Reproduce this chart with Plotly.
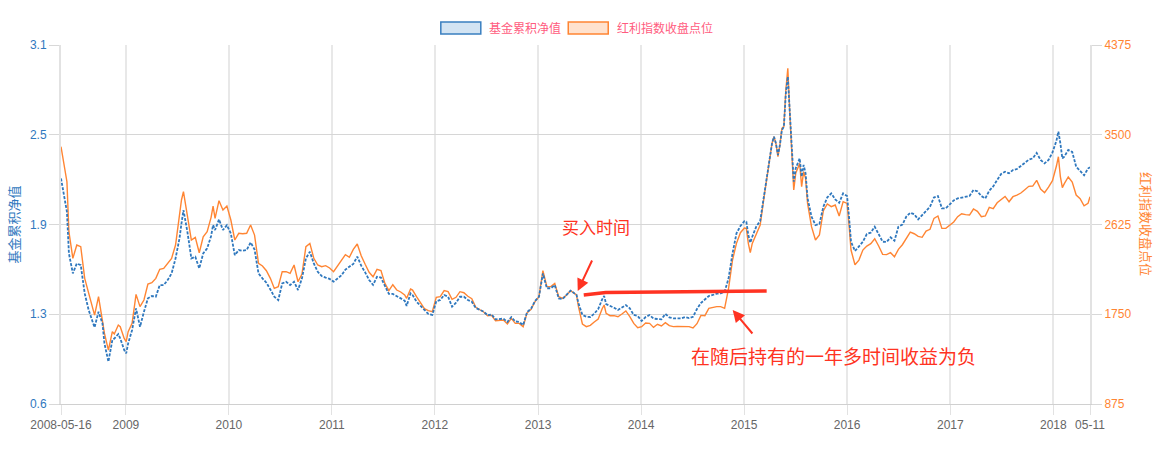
import pandas as pd
import plotly.graph_objects as go

# ---------------- data ----------------
start_date = "2008-05-16"
end_date = "2018-05-11"

# observation time stamps: weeks since 2008-05-16
week_no = [
    0, 2, 3, 4, 6, 8, 10, 12, 14, 16, 17, 19, 21, 22, 24, 26, 27, 29, 30, 32, 33, 34, 36, 38, 40,
    42, 44, 46, 48, 50, 52, 54, 56, 58, 60, 61, 62, 64, 66, 68, 70, 72, 74, 76, 77, 78, 80, 82, 84,
    86, 88, 90, 92, 94, 96, 98, 100, 102, 104, 106, 108, 110, 112, 114, 116, 118, 120, 122, 124,
    126, 128, 130, 132,
    134, 136, 138, 140, 142, 144, 146, 148, 150, 152, 154, 156, 158, 160, 162, 164, 166, 168, 170,
    172, 174, 175, 177, 178, 180, 182, 184, 186, 188, 190, 192, 194, 196, 198, 200, 202, 204, 206,
    208, 210, 212, 214, 216, 218, 220, 222, 224, 226, 228, 230, 232, 234, 236, 238, 240, 242, 243,
    244, 246, 248, 250, 252, 254, 256, 258, 260, 261, 262, 264,
    266, 268, 270, 272, 274, 275, 276, 278, 280, 282, 284, 286, 288, 290, 292, 294, 296, 298, 300,
    302, 304, 306, 308, 310, 312, 314, 316, 318, 320, 322, 324, 326, 328, 330, 332, 334, 336, 338,
    340, 342, 344, 346, 347, 348, 349, 350, 352, 354, 356, 358, 360, 361, 362, 363, 364, 365, 366,
    367, 368, 369, 370, 371, 372, 374, 375, 376, 377, 378, 380, 382, 384, 386, 388, 390, 392, 394,
    396, 398, 399,
    400, 402, 404, 406, 408, 410, 412, 414, 416, 418, 420, 422, 424, 426, 428, 430, 432, 434, 436,
    438, 440, 442, 444, 446, 448, 450, 452, 454, 456, 458, 460, 462, 464, 466, 468, 470, 472, 474,
    476, 478, 480, 482, 484, 486, 488, 490, 492, 494, 496, 498, 500, 502, 504, 505, 506, 507, 508,
    510, 512, 514, 516, 518, 520, 521,
]

# 基金累积净值 (left axis)
fund_nav = [
    2.186, 2.015, 1.957, 1.672, 1.535, 1.603, 1.592, 1.398, 1.284, 1.204, 1.165, 1.272, 1.192,
    1.055, 0.930, 1.078, 1.089, 1.119, 1.089, 1.010, 0.987, 1.055, 1.147, 1.295, 1.169, 1.272,
    1.364, 1.380, 1.375, 1.455, 1.455, 1.489, 1.535, 1.638, 1.775, 1.877, 1.969, 1.820, 1.638,
    1.649, 1.569, 1.672, 1.706, 1.791, 1.866, 1.832, 1.905, 1.832, 1.866, 1.809, 1.660, 1.695,
    1.690, 1.695, 1.747, 1.699, 1.535, 1.501, 1.471, 1.425, 1.375, 1.352, 1.466, 1.478, 1.455,
    1.478, 1.421, 1.501, 1.638, 1.683, 1.603, 1.546, 1.517,
    1.506, 1.497, 1.478, 1.497, 1.522, 1.561, 1.581, 1.600, 1.650, 1.588, 1.542, 1.490, 1.456,
    1.512, 1.506, 1.444, 1.394, 1.394, 1.376, 1.364, 1.348, 1.312, 1.398, 1.387, 1.341, 1.312,
    1.280, 1.257, 1.250, 1.344, 1.353, 1.387, 1.375, 1.307, 1.334, 1.375, 1.375, 1.353, 1.341,
    1.298, 1.286, 1.273, 1.248, 1.254, 1.220, 1.225, 1.225, 1.202, 1.236, 1.206, 1.202, 1.181,
    1.270, 1.293, 1.346, 1.375, 1.449, 1.535, 1.433, 1.433, 1.455, 1.364, 1.360, 1.387, 1.417,
    1.398, 1.389, 1.330, 1.250,
    1.238, 1.236, 1.259, 1.291, 1.357, 1.380, 1.325, 1.314, 1.300, 1.284, 1.302, 1.318, 1.295,
    1.250, 1.243, 1.209, 1.236, 1.250, 1.225, 1.225, 1.220, 1.257, 1.234, 1.227, 1.229, 1.227,
    1.236, 1.229, 1.238, 1.291, 1.332, 1.355, 1.380, 1.387, 1.396, 1.398, 1.410, 1.501, 1.672,
    1.809, 1.860, 1.892, 1.889, 1.798, 1.745, 1.786, 1.855, 1.894, 2.061, 2.243, 2.426, 2.472,
    2.426, 2.346, 2.415, 2.517, 2.540, 2.769, 2.883, 2.643, 2.403, 2.163, 2.255, 2.323, 2.198,
    2.278, 2.221, 2.049, 1.924, 1.866, 1.873, 1.992, 2.056, 2.083, 2.042, 2.019, 2.083, 2.065,
    1.920,
    1.752, 1.688, 1.718, 1.752, 1.805, 1.814, 1.855, 1.805, 1.752, 1.750, 1.782, 1.759, 1.855,
    1.869, 1.924, 1.951, 1.940, 1.905, 1.935, 1.965, 1.992, 2.056, 2.065, 1.981, 1.981, 2.008,
    2.035, 2.049, 2.056, 2.061, 2.065, 2.106, 2.097, 2.065, 2.049, 2.102, 2.131, 2.175, 2.216,
    2.232, 2.221, 2.243, 2.250, 2.271, 2.296, 2.314, 2.323, 2.360, 2.312, 2.289, 2.312, 2.364,
    2.444, 2.506, 2.426, 2.323, 2.335, 2.381, 2.367, 2.266, 2.237, 2.207, 2.253, 2.262,
]

# 红利指数收盘点位 (right axis)
index_close = [
    3384, 3124, 3042, 2555, 2295, 2425, 2409, 2100, 1947, 1791, 1742, 1921, 1661, 1564, 1401,
    1580, 1557, 1645, 1629, 1515, 1482, 1580, 1661, 1944, 1824, 1889, 2045, 2058, 2100, 2188,
    2197, 2246, 2295, 2425, 2717, 2864, 2945, 2685, 2474, 2500, 2350, 2506, 2555, 2695, 2805,
    2685, 2857, 2766, 2805, 2669, 2474, 2539, 2535, 2539, 2620, 2522, 2246, 2220, 2174, 2100,
    2002, 2019, 2165, 2165, 2149, 2230, 2067, 2142, 2409, 2441, 2295, 2230, 2214,
    2224, 2201, 2165, 2220, 2272, 2331, 2305, 2383, 2435, 2321, 2237, 2159, 2116, 2188, 2175,
    2051, 1980, 2038, 1986, 1967, 1938, 1905, 1996, 1986, 1921, 1856, 1804, 1785, 1775, 1915,
    1921, 1980, 1970, 1895, 1915, 1970, 1960, 1925, 1902, 1817, 1791, 1772, 1736, 1739, 1687,
    1694, 1694, 1655, 1710, 1661, 1661, 1629, 1766, 1798, 1873, 1921, 2035, 2175, 2019, 2019,
    2051, 1921, 1905, 1937, 1980, 1954, 1938, 1824, 1655,
    1629, 1642, 1674, 1704, 1804, 1840, 1759, 1736, 1736, 1726, 1752, 1782, 1726, 1661, 1619,
    1629, 1665, 1661, 1622, 1652, 1636, 1668, 1639, 1629, 1632, 1629, 1632, 1629, 1616, 1658,
    1739, 1736, 1808, 1817, 1824, 1824, 1808, 2003, 2279, 2441, 2545, 2591, 2588, 2441, 2350,
    2441, 2523, 2620, 2896, 3156, 3416, 3481, 3410, 3286, 3400, 3563, 3579, 3936, 4148, 3709,
    3351, 2961, 3124, 3221, 2994, 3140, 3075, 2831, 2604, 2474, 2523, 2760, 2825, 2799, 2815,
    2708, 2848, 2830, 2620,
    2376, 2233, 2278, 2376, 2415, 2438, 2486, 2415, 2334, 2331, 2350, 2311, 2383, 2428, 2490,
    2551, 2535, 2509, 2500, 2561, 2578, 2685, 2708, 2587, 2587, 2620, 2649, 2701, 2730, 2721,
    2717, 2776, 2753, 2701, 2708, 2792, 2779, 2837, 2870, 2899, 2847, 2896, 2912, 2932, 2964,
    2997, 3000, 3055, 2971, 2935, 2990, 3052, 3195, 3286, 3091, 2984, 3023, 3088, 3039, 2912,
    2877, 2808, 2831, 2896,
]

x_tick_dates = ["2008-05-16", "2009-01-01", "2010-01-01", "2011-01-01", "2012-01-01",
                "2013-01-01", "2014-01-01", "2015-01-01", "2016-01-01", "2017-01-01",
                "2018-01-01", "2018-05-11"]
x_tick_text = ["2008-05-16", "2009", "2010", "2011", "2012", "2013", "2014", "2015", "2016",
               "2017", "2018", "05-11"]

left_range = [0.64, 3.1]
left_tick_text = ["0.6", "1.3", "1.9", "2.5", "3.1"]
right_range = [875, 4375]
right_ticks = [875, 1750, 2625, 3500, 4375]

series_names = ["基金累积净值", "红利指数收盘点位"]
note_buy = "买入时间"
note_hold = "在随后持有的一年多时间收益为负"

# ---------------- figure ----------------
dates = [pd.Timestamp(start_date) + pd.Timedelta(days=7 * w) for w in week_no]

BLUE = "#2f78be"
ORANGE = "#ff8533"
RED = "#ff3322"
FONT = "Helvetica, Arial, 'Liberation Sans', 'Noto Sans CJK SC', sans-serif"

W, H = 1169, 454
L, R, T, B = 61, 78.5, 45, 50
PW, PH = W - L - R, H - T - B


def px(x):
    return (x - L) / PW


def py(y):
    return (H - B - y) / PH


n = len(left_tick_text)
left_ticks = [left_range[0] + i * (left_range[1] - left_range[0]) / (n - 1) for i in range(n)]

fig = go.Figure()
fig.add_trace(go.Scatter(x=dates, y=index_close, name=series_names[1], yaxis="y",
                         mode="lines", line=dict(color=ORANGE, width=1.4)))
fig.add_trace(go.Scatter(x=dates, y=fund_nav, name=series_names[0], yaxis="y2",
                         mode="lines", line=dict(color=BLUE, width=1.8, dash="3px,1.5px")))

shapes = [
    # legend swatches
    dict(type="rect", xref="paper", yref="paper", x0=px(441), x1=px(481), y0=py(34), y1=py(22),
         line=dict(color="#3a7fc0", width=1.5), fillcolor="rgba(54,130,200,0.22)"),
    dict(type="rect", xref="paper", yref="paper", x0=px(568.5), x1=px(608.5), y0=py(34), y1=py(22),
         line=dict(color=ORANGE, width=1.5), fillcolor="rgba(255,140,60,0.25)"),
    # red hand-drawn reference line
    dict(type="path", xref="paper", yref="paper",
         path=f"M {px(584)},{py(295)} L {px(606)},{py(292.5)} L {px(767)},{py(291)}",
         line=dict(color=RED, width=3.5)),
]

annotations = [
    dict(xref="paper", yref="paper", x=px(487), y=py(28), text=series_names[0], showarrow=False,
         xanchor="left", yanchor="middle", font=dict(size=12, color="#ff5c80")),
    dict(xref="paper", yref="paper", x=px(615), y=py(28), text=series_names[1], showarrow=False,
         xanchor="left", yanchor="middle", font=dict(size=12, color="#ff5c80")),
    dict(xref="paper", yref="paper", x=px(14), y=0.5, text=series_names[0], showarrow=False,
         textangle=-90, xanchor="center", yanchor="middle", font=dict(size=13, color=BLUE)),
    dict(xref="paper", yref="paper", x=px(1146), y=0.5, text=series_names[1], showarrow=False,
         textangle=90, xanchor="center", yanchor="middle", font=dict(size=13, color=ORANGE)),
    dict(xref="paper", yref="paper", x=px(596), y=py(228), text=note_buy, showarrow=False,
         xanchor="center", yanchor="middle", font=dict(size=17, color=RED)),
    dict(xref="paper", yref="paper", x=px(833.5), y=py(357), text=note_hold, showarrow=False,
         xanchor="center", yanchor="middle", font=dict(size=19, color=RED)),
    dict(xref="paper", yref="paper", x=px(578), y=py(291), text="", showarrow=True,
         axref="pixel", ayref="pixel", ax=15, ay=-32, arrowhead=2, arrowsize=1.2,
         arrowwidth=2, arrowcolor=RED),
    dict(xref="paper", yref="paper", x=px(733), y=py(310), text="", showarrow=True,
         axref="pixel", ayref="pixel", ax=21, ay=25, arrowhead=2, arrowsize=1.2,
         arrowwidth=2, arrowcolor=RED),
]

fig.update_layout(
    width=W, height=H, autosize=False,
    margin=dict(l=L, r=R, t=T, b=B, pad=0),
    paper_bgcolor="white", plot_bgcolor="white",
    font=dict(family=FONT, size=12, color="#666666"),
    showlegend=False,
    xaxis=dict(type="date", range=[start_date, end_date], tickmode="array",
               tickvals=x_tick_dates, ticktext=x_tick_text, ticks="outside", ticklen=10,
               tickcolor="#e2e2e2", tickfont=dict(size=12, color="#666666"),
               showgrid=True, gridcolor="#e8e8e8", gridwidth=1.5,
               showline=True, linecolor="#d0d0d0", linewidth=1, zeroline=False),
    yaxis=dict(side="right", range=right_range, tickmode="array", tickvals=right_ticks,
               ticktext=[str(v) for v in right_ticks], ticks="outside", ticklen=10,
               tickcolor="#d8d8d8", tickfont=dict(size=12, color=ORANGE),
               showgrid=True, gridcolor="#d6d6d6", gridwidth=1,
               showline=True, linecolor="#e2e2e2", linewidth=2, zeroline=False),
    yaxis2=dict(side="left", overlaying="y", range=left_range, tickmode="array",
                tickvals=left_ticks, ticktext=left_tick_text, ticks="outside", ticklen=10,
                tickcolor="#d8d8d8", tickfont=dict(size=12, color=BLUE),
                showgrid=False, showline=True, linecolor="#e2e2e2", linewidth=2,
                zeroline=False),
    shapes=shapes,
    annotations=annotations,
)

fig.write_html("out.html")
